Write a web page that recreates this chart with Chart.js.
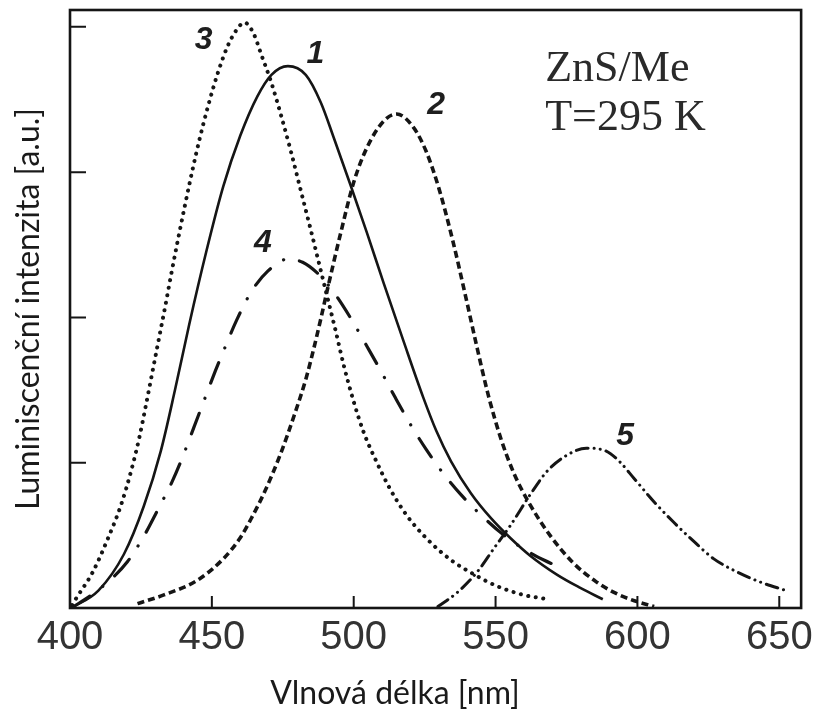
<!DOCTYPE html>
<html lang="cs">
<head>
<meta charset="utf-8">
<title>Luminiscenční spektra ZnS/Me</title>
<script src="https://cdn.jsdelivr.net/npm/chart.js@4.4.1/dist/chart.umd.min.js"></script>
<style>
  html, body { margin: 0; padding: 0; background: #fff; }
  #wrap { position: relative; width: 819px; height: 713px; }
</style>
</head>
<body>
<div id="wrap"><canvas id="spectra"></canvas></div>
<script>
// emission bands: wavelength [nm] and intensity [a.u.]
const band1Nm = [400.5, 410.0, 419.0, 426.0, 432.0, 437.0, 442.0, 448.0, 454.0, 460.0, 466.0, 471.0, 476.8, 483.1, 488.4, 493.1, 498.9, 504.7, 510.5, 517.5, 524.5, 529.1, 534.3, 541.3, 548.3, 555.3, 562.2, 571.6, 579.7, 587.8];
const band1I  = [0.00, 0.12, 0.37, 0.70, 1.08, 1.50, 1.95, 2.45, 2.90, 3.25, 3.52, 3.67, 3.73, 3.67, 3.48, 3.23, 2.91, 2.58, 2.24, 1.84, 1.45, 1.22, 1.01, 0.79, 0.62, 0.48, 0.36, 0.23, 0.14, 0.06];

const band2Nm = [423.8, 433.1, 444.8, 454.1, 459.9, 464.0, 468.6, 474.4, 479.1, 483.2, 486.1, 488.4, 490.7, 495.4, 500.0, 504.7, 510.5, 515.1, 521.0, 525.6, 530.0, 534.9, 539.5, 543.5, 547.5, 551.8, 556.4, 562.2, 569.2, 577.4, 585.5, 592.5, 598.9, 605.9];
const band2I  = [0.03, 0.09, 0.19, 0.34, 0.48, 0.62, 0.80, 1.07, 1.33, 1.58, 1.80, 1.99, 2.19, 2.58, 2.93, 3.17, 3.35, 3.40, 3.31, 3.14, 2.89, 2.53, 2.14, 1.79, 1.46, 1.17, 0.93, 0.71, 0.50, 0.31, 0.18, 0.10, 0.05, 0.01];

const band3Nm = [400.7, 402.3, 408.1, 413.4, 418.0, 421.5, 424.4, 426.8, 429.1, 431.4, 433.6, 435.8, 438.1, 440.5, 443.0, 445.7, 448.6, 451.9, 455.4, 458.4, 461.5, 464.8, 467.4, 470.9, 474.4, 477.9, 481.4, 484.9, 487.8, 490.7, 493.6, 496.5, 500.0, 503.5, 508.2, 512.8, 518.6, 525.6, 534.3, 542.5, 550.6, 559.9, 568.6];
const band3I  = [0.02, 0.07, 0.25, 0.48, 0.71, 0.94, 1.17, 1.40, 1.63, 1.86, 2.08, 2.31, 2.54, 2.77, 3.00, 3.23, 3.45, 3.67, 3.86, 3.97, 4.03, 3.95, 3.81, 3.62, 3.39, 3.14, 2.87, 2.60, 2.37, 2.14, 1.91, 1.67, 1.42, 1.21, 1.00, 0.82, 0.64, 0.48, 0.33, 0.23, 0.15, 0.09, 0.06];

const band4Nm = [400.5, 407.6, 414.0, 420.3, 426.2, 430.8, 436.0, 439.5, 443.6, 447.1, 451.2, 455.2, 458.7, 464.0, 469.8, 476.5, 482.0, 488.0, 493.1, 499.4, 504.7, 509.9, 514.6, 519.8, 525.6, 531.4, 537.8, 545.4, 553.0, 560.5, 567.0, 574.0];
const band4I  = [0.00, 0.09, 0.19, 0.32, 0.50, 0.67, 0.87, 1.03, 1.24, 1.42, 1.63, 1.82, 1.98, 2.18, 2.32, 2.40, 2.38, 2.29, 2.17, 1.98, 1.80, 1.62, 1.45, 1.27, 1.09, 0.93, 0.78, 0.63, 0.50, 0.40, 0.33, 0.27];

const band5Nm = [529.7, 536.7, 543.6, 549.4, 555.3, 562.2, 568.1, 575.0, 582.0, 589.0, 593.6, 598.9, 605.9, 612.8, 619.8, 626.8, 634.9, 643.1, 652.4];
const band5I  = [0.01, 0.11, 0.25, 0.41, 0.57, 0.78, 0.94, 1.05, 1.10, 1.08, 1.01, 0.89, 0.73, 0.59, 0.46, 0.34, 0.25, 0.18, 0.12];

const xTickValues = [400, 450, 500, 550, 600, 650];
const yTickValues = [0, 1, 2, 3, 4];

// curve numbers, placed in data units
const tagText = ['1', '2', '3', '4', '5'];
const tagNm   = [486.5, 529.1, 447.1, 468.0, 595.7];
const tagI    = [3.81, 3.46, 3.91, 2.51, 1.18];

const noteLines = ['ZnS/Me', 'T=295 K'];
const noteNm = 567.5;
const noteI  = [3.63, 3.29];

const xTitle = 'Vlnová délka [nm]';
const yTitle = 'Luminiscenční intenzita [a.u.]';

const ink = '#151515';

function pts(nm, val) {
  return nm.map((x, i) => ({ x: x, y: val[i] }));
}

function band(nm, val, width, dash, cap) {
  return {
    data: pts(nm, val),
    showLine: true,
    borderColor: ink,
    borderWidth: width,
    borderDash: dash,
    borderCapStyle: cap,
    pointRadius: 0,
    cubicInterpolationMode: 'monotone',
    fill: false
  };
}

// box, inward ticks, curve numbers, note and axis titles
const decorations = {
  id: 'decorations',
  afterDatasetsDraw(chart) {
    const ctx = chart.ctx;
    const area = chart.chartArea;
    const xs = chart.scales.x;
    const ys = chart.scales.y;
    ctx.save();

    ctx.strokeStyle = ink;
    ctx.lineWidth = 2.6;
    ctx.strokeRect(area.left, area.top, area.right - area.left, area.bottom - area.top);

    ctx.lineWidth = 2;
    ctx.beginPath();
    xTickValues.forEach(v => {
      const px = xs.getPixelForValue(v);
      ctx.moveTo(px, area.bottom);
      ctx.lineTo(px, area.bottom - 12);
    });
    yTickValues.forEach(v => {
      const py = ys.getPixelForValue(v);
      ctx.moveTo(area.left, py);
      ctx.lineTo(area.left + 16, py);
    });
    ctx.stroke();

    ctx.fillStyle = '#1e1e1e';
    ctx.font = 'italic bold 32px "Liberation Sans", Arial, sans-serif';
    ctx.textAlign = 'center';
    ctx.textBaseline = 'middle';
    tagText.forEach((t, i) => {
      ctx.fillText(t, xs.getPixelForValue(tagNm[i]), ys.getPixelForValue(tagI[i]));
    });

    ctx.fillStyle = '#2a2a2a';
    ctx.font = '44px "Liberation Serif", "Times New Roman", serif';
    ctx.textAlign = 'left';
    ctx.textBaseline = 'alphabetic';
    noteLines.forEach((t, i) => {
      ctx.fillText(t, xs.getPixelForValue(noteNm), ys.getPixelForValue(noteI[i]));
    });

    ctx.fillStyle = '#1a1a1a';
    ctx.font = '32px Lato, "Open Sans", sans-serif';
    ctx.textAlign = 'center';
    ctx.textBaseline = 'middle';
    ctx.fillText(xTitle, area.left + 325, area.bottom + 86);

    ctx.translate(area.left - 41, (area.top + area.bottom) / 2);
    ctx.rotate(-Math.PI / 2);
    ctx.fillText(yTitle, 0, 0);
    ctx.restore();
  }
};

new Chart(document.getElementById('spectra'), {
  type: 'scatter',
  data: {
    datasets: [
      band(band1Nm, band1I, 2.6, [], 'butt'),
      band(band2Nm, band2I, 3.6, [7, 4], 'butt'),
      band(band3Nm, band3I, 4, [0.1, 7.5], 'round'),
      band(band4Nm, band4I, 3.2, [22, 16, 0.1, 16], 'round'),
      band(band5Nm, band5I, 3, [12, 6, 0.1, 6, 0.1, 6], 'round')
    ]
  },
  options: {
    responsive: true,
    maintainAspectRatio: false,
    animation: false,
    layout: { padding: { top: 10, right: 12, bottom: 0, left: 0 } },
    plugins: {
      legend: { display: false },
      tooltip: { enabled: false }
    },
    scales: {
      x: {
        type: 'linear',
        min: 400,
        max: 657.7,
        afterBuildTicks: scale => { scale.ticks = xTickValues.map(v => ({ value: v })); },
        afterFit: scale => { scale.height = 105; },
        grid: { display: false, drawTicks: false },
        border: { display: false },
        ticks: {
          autoSkip: false,
          maxRotation: 0,
          padding: 6,
          color: '#333',
          font: { family: '"Liberation Sans", Arial, sans-serif', size: 40 }
        }
      },
      y: {
        type: 'linear',
        min: 0,
        max: 4.116,
        afterFit: scale => { scale.width = 70; },
        grid: { display: false, drawTicks: false },
        border: { display: false },
        ticks: { display: false }
      }
    }
  },
  plugins: [decorations]
});
</script>
</body>
</html>
